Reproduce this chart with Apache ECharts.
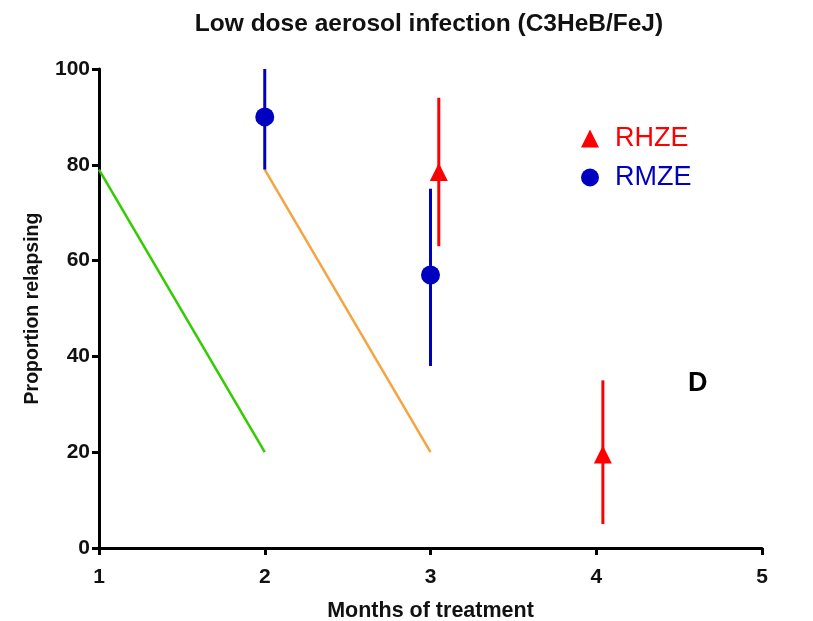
<!DOCTYPE html>
<html><head><meta charset="utf-8">
<script src="https://cdn.jsdelivr.net/npm/echarts@6/dist/echarts.min.js"></script>
<style>html,body{margin:0;padding:0;background:#fff}#c{width:813px;height:621px}</style>
</head><body><div id="c"></div>
<script>
var xTicks = [1, 2, 3, 4, 5];
var yTicks = [0, 20, 40, 60, 80, 100];
// RHZE: [month, mean, lower, upper]
var rhzeX = [3.05, 4.04];
var rhzeY = [78.5, 19.5];
var rhzeLo = [63, 5];
var rhzeHi = [94, 35];
// RMZE
var rmzeX = [2, 3];
var rmzeY = [90, 57];
var rmzeLo = [79, 38];
var rmzeHi = [100, 75];
// reference lines
var greenLine = [[1, 79], [2, 20]];
var orangeLine = [[2, 79], [3, 20]];

var RED = '#ff0000', BLUE = '#0000c0';
var FONT = '"Liberation Sans", Arial, sans-serif';

function errData(xs, lo, hi) {
  return xs.map(function (x, i) { return [x, lo[i], hi[i]]; });
}
function errSeries(xs, lo, hi, color) {
  return {
    type: 'custom', silent: true, z: 3,
    data: errData(xs, lo, hi),
    encode: { x: 0, y: [1, 2] },
    renderItem: function (params, api) {
      var a = api.coord([api.value(0), api.value(1)]);
      var b = api.coord([api.value(0), api.value(2)]);
      return { type: 'line', shape: { x1: a[0], y1: a[1], x2: b[0], y2: b[1] },
        style: { stroke: color, lineWidth: 3 } };
    }
  };
}

var chart = echarts.init(document.getElementById('c'));
chart.setOption({
  animation: false,
  backgroundColor: '#fff',
  title: {
    text: 'Low dose aerosol infection (C3HeB/FeJ)',
    left: 424, top: 7, textAlign: 'center',
    textStyle: { fontFamily: FONT, fontWeight: 'bold', fontSize: 24.5, color: '#111' }
  },
  legend: {
    orient: 'vertical', left: 576, top: 120, itemGap: 12,
    itemWidth: 18, itemHeight: 18,
    textStyle: { fontFamily: FONT, fontSize: 27, padding: [0, 0, 0, 11] },
    data: [
      { name: 'RHZE', icon: 'triangle', textStyle: { color: RED } },
      { name: 'RMZE', icon: 'circle', textStyle: { color: BLUE } }
    ]
  },
  grid: { left: 99, right: 51, top: 69, bottom: 73, outerBoundsMode: 'none', containLabel: false },
  xAxis: {
    type: 'value', min: 1, max: 5, interval: 1,
    name: 'Months of treatment', nameLocation: 'middle', nameGap: 52,
    nameTextStyle: { fontFamily: FONT, fontWeight: 'bold', fontSize: 21.5, color: '#111' },
    axisLine: { lineStyle: { color: '#000', width: 3 } },
    axisTick: { show: true, length: 7, lineStyle: { color: '#000', width: 3 } },
    axisLabel: { fontFamily: FONT, fontWeight: 'bold', fontSize: 21, color: '#111', margin: 19,
      formatter: function (v) { return xTicks.indexOf(v) >= 0 ? String(v) : ''; } },
    splitLine: { show: false }
  },
  yAxis: {
    type: 'value', min: 0, max: 100, interval: 20,
    name: 'Proportion relapsing', nameLocation: 'middle', nameGap: 56,
    nameTextStyle: { fontFamily: FONT, fontWeight: 'bold', fontSize: 19.5, color: '#111' },
    axisLine: { show: true, lineStyle: { color: '#000', width: 3 } },
    axisTick: { show: true, length: 7, lineStyle: { color: '#000', width: 3 } },
    axisLabel: { fontFamily: FONT, fontWeight: 'bold', fontSize: 21, color: '#111', margin: 9,
      formatter: function (v) { return yTicks.indexOf(v) >= 0 ? String(v) : ''; } },
    splitLine: { show: false }
  },
  graphic: [{
    type: 'text', left: 688, top: 370,
    style: { text: 'D', font: 'bold 27px ' + FONT, fill: '#000' }
  }],
  series: [
    { type: 'line', data: greenLine, symbol: 'none', silent: true,
      lineStyle: { color: '#33cc00', width: 2.5 }, z: 1 },
    { type: 'line', data: orangeLine, symbol: 'none', silent: true,
      lineStyle: { color: '#f5a442', width: 2.5 }, z: 1 },
    errSeries(rhzeX, rhzeLo, rhzeHi, RED),
    errSeries(rmzeX, rmzeLo, rmzeHi, BLUE),
    { name: 'RHZE', type: 'scatter', symbol: 'triangle', symbolSize: 18, z: 4,
      itemStyle: { color: RED, opacity: 1 },
      data: rhzeX.map(function (x, i) { return [x, rhzeY[i]]; }) },
    { name: 'RMZE', type: 'scatter', symbol: 'circle', symbolSize: 19, z: 4,
      itemStyle: { color: BLUE, opacity: 1 },
      data: rmzeX.map(function (x, i) { return [x, rmzeY[i]]; }) }
  ]
});
</script></body></html>
